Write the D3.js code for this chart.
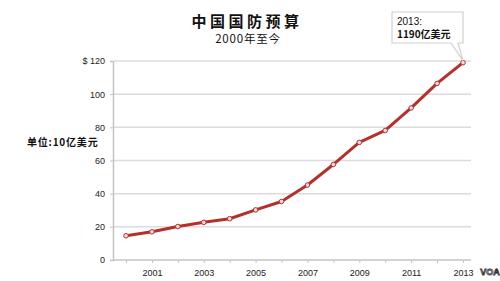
<!DOCTYPE html>
<html>
<head>
<meta charset="utf-8">
<script src="https://cdn.jsdelivr.net/npm/d3@7"></script>
<style>
  body { margin: 0; background: #fff; }
  svg { display: block; }
</style>
</head>
<body>
<div id="chart"></div>
<script>
// data (10 亿美元)
const years = [2000, 2001, 2002, 2003, 2004, 2005, 2006, 2007, 2008, 2009, 2010, 2011, 2012, 2013];
const budget = [14.6, 17.0, 20.2, 22.7, 24.9, 30.2, 35.3, 45.2, 57.6, 70.9, 78.1, 91.7, 106.5, 119];
const yTicks = [0, 20, 40, 60, 80, 100, 120];
const labelYears = [2001, 2003, 2005, 2007, 2009, 2011, 2013];

const title = '中国国防预算';
const subtitle = '2000年至今';
const unitLabel = '单位:10亿美元';
const noteLines = ['2013:', '1190亿美元'];

const width = 500;
const height = 281;
const sans = 'Liberation Sans, Arial, sans-serif';
const cjk = '"Noto Sans CJK SC", sans-serif';

const svg = d3.select('#chart')
  .append('svg')
  .attr('width', width)
  .attr('height', height);

const x = d3.scalePoint().domain(years).range([126, 463]);
const y = d3.scaleLinear().domain([0, 120]).range([260, 61]);

// grid lines
svg.append('g')
  .selectAll('line')
  .data(yTicks.filter((d) => d > 0))
  .enter()
  .append('line')
  .attr('x1', 114)
  .attr('x2', 471)
  .attr('y1', (d) => y(d))
  .attr('y2', (d) => y(d))
  .attr('stroke', '#dcdcdc')
  .attr('stroke-width', 1.5);

// y axis
const yAxis = svg.append('g')
  .attr('transform', 'translate(113,0)')
  .call(d3.axisLeft(y).tickValues(yTicks).tickSize(3).tickPadding(5)
    .tickFormat((d) => (d === 120 ? '$ 120' : d)));
yAxis.select('.domain').attr('stroke', '#c4c4c4').attr('stroke-width', 1.5);
yAxis.selectAll('.tick line').attr('stroke', '#c4c4c4');
yAxis.selectAll('.tick text')
  .attr('fill', '#222')
  .style('font-family', sans)
  .style('font-size', '9px');

// x axis
const xAxis = svg.append('g')
  .attr('transform', `translate(0,${y(0)})`)
  .call(d3.axisBottom(x).tickSize(3).tickPadding(7)
    .tickFormat((d) => (labelYears.includes(d) ? d : '')));
xAxis.select('.domain')
  .attr('d', 'M113,0H471')
  .attr('stroke', '#c4c4c4')
  .attr('stroke-width', 1.5);
xAxis.selectAll('.tick line').attr('stroke', '#c4c4c4');
xAxis.selectAll('.tick text')
  .attr('fill', '#222')
  .style('font-family', sans)
  .style('font-size', '9px');

// line
const line = d3.line()
  .x((d, i) => x(years[i]))
  .y((d) => y(d));

svg.append('path')
  .datum(budget)
  .attr('fill', 'none')
  .attr('stroke', '#b5302a')
  .attr('stroke-width', 3)
  .attr('stroke-linejoin', 'round')
  .attr('d', line);

svg.append('g')
  .selectAll('circle')
  .data(budget)
  .enter()
  .append('circle')
  .attr('cx', (d, i) => x(years[i]))
  .attr('cy', (d) => y(d))
  .attr('r', 2.3)
  .attr('fill', '#f6dcdc')
  .attr('stroke', '#b5302a')
  .attr('stroke-width', 1);

// titles
svg.append('text')
  .attr('x', 247)
  .attr('y', 27)
  .attr('text-anchor', 'middle')
  .style('font-family', cjk)
  .style('font-weight', 'bold')
  .style('font-size', '15px')
  .style('letter-spacing', '3.5px')
  .attr('fill', '#111')
  .text(title);

svg.append('text')
  .attr('x', 248)
  .attr('y', 43)
  .attr('text-anchor', 'middle')
  .style('font-family', cjk)
  .style('font-size', '11.5px')
  .style('letter-spacing', '0.8px')
  .attr('fill', '#111')
  .text(subtitle);

svg.append('text')
  .attr('x', 27)
  .attr('y', 146)
  .style('font-family', cjk)
  .style('font-weight', 'bold')
  .style('font-size', '10px')
  .style('letter-spacing', '0.8px')
  .attr('fill', '#111')
  .text(unitLabel);

// callout for 2013
const last = budget.length - 1;
const px = x(years[last]);
const py = y(budget[last]);
svg.append('path')
  .attr('d', `M392,12H463V43H458L${px},${py - 2}L451,43H392Z`)
  .attr('fill', '#fff')
  .attr('stroke', '#cfcfcf')
  .attr('stroke-width', 1.2);

svg.append('g')
  .selectAll('text')
  .data(noteLines)
  .enter()
  .append('text')
  .attr('x', 397)
  .attr('y', (d, i) => 25 + i * 13)
  .style('font-family', (d, i) => (i === 0 ? sans : cjk))
  .style('font-weight', (d, i) => (i === 0 ? 'normal' : 'bold'))
  .style('font-size', '10px')
  .attr('fill', '#111')
  .text((d) => d);

// VOA mark
svg.append('text')
  .attr('x', 490)
  .attr('y', 275)
  .attr('text-anchor', 'middle')
  .style('font-family', sans)
  .style('font-weight', 'bold')
  .style('font-size', '9px')
  .attr('fill', '#fff')
  .attr('stroke', '#333')
  .attr('stroke-width', 0.8)
  .text('VOA');
</script>
</body>
</html>
